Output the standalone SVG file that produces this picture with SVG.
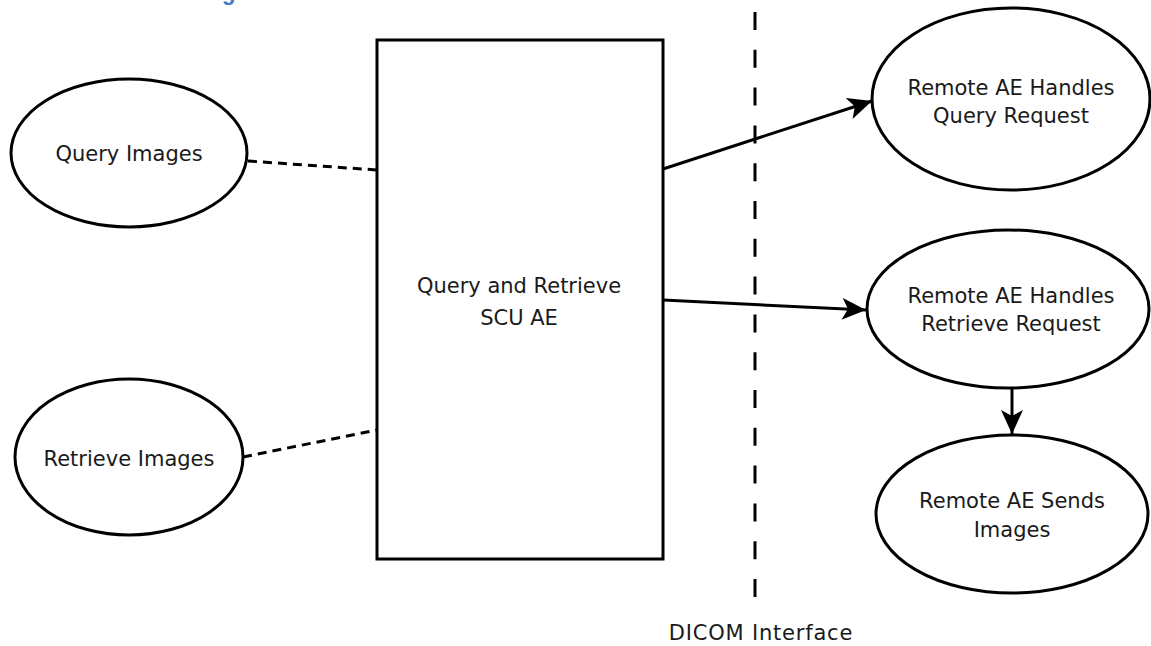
<svg xmlns="http://www.w3.org/2000/svg" width="1151" height="646" viewBox="0 0 1151 646">
<style>
.shape{fill:#fff;stroke:#000;stroke-width:3}
.lbl{font-family:"DejaVu Sans",Verdana,sans-serif;font-size:21px;fill:#1a1a1a;text-anchor:middle}
.dot{fill:none;stroke:#000;stroke-width:3;stroke-dasharray:9 6}
.arr{fill:none;stroke:#000;stroke-width:3;marker-end:url(#ah)}
</style>
<defs>
<marker id="ah" markerUnits="userSpaceOnUse" markerWidth="26" markerHeight="24" refX="24" refY="11" orient="auto">
<path d="M0,0 L24,11 L0,22 L6,11 z" fill="#000"/>
</marker>
</defs>
<rect width="1151" height="646" fill="#fff"/>
<text x="222" y="0" font-family="Liberation Sans,sans-serif" font-size="22" font-weight="bold" fill="#3e7ac6">g</text>
<g id="connectors">
<line x1="755" y1="12" x2="755" y2="597" stroke="#000" stroke-width="3" stroke-dasharray="18 19.8"/>
<line class="dot" x1="248" y1="161" x2="377" y2="170"/>
<line class="dot" x1="243" y1="457" x2="377" y2="430"/>
<line class="arr" x1="663" y1="169" x2="872" y2="101"/>
<line class="arr" x1="663" y1="300" x2="866" y2="310"/>
<line class="arr" x1="1012" y1="388" x2="1012" y2="434"/>
</g>
<g id="query-images">
<ellipse class="shape" cx="129" cy="153" rx="118" ry="74"/>
<text class="lbl" x="129" y="161">Query Images</text>
</g>
<g id="retrieve-images">
<ellipse class="shape" cx="129" cy="457" rx="114" ry="78"/>
<text class="lbl" x="129" y="466">Retrieve Images</text>
</g>
<g id="scu-ae">
<rect class="shape" x="377" y="40" width="286" height="519"/>
<text class="lbl" x="519" y="293">Query and Retrieve</text>
<text class="lbl" x="519" y="325">SCU AE</text>
</g>
<g id="remote-query">
<ellipse class="shape" cx="1011" cy="99" rx="139" ry="91"/>
<text class="lbl" x="1011" y="95">Remote AE Handles</text>
<text class="lbl" x="1011" y="123">Query Request</text>
</g>
<g id="remote-retrieve">
<ellipse class="shape" cx="1008" cy="309" rx="141" ry="79"/>
<text class="lbl" x="1011" y="303">Remote AE Handles</text>
<text class="lbl" x="1011" y="331">Retrieve Request</text>
</g>
<g id="remote-sends">
<ellipse class="shape" cx="1012" cy="514" rx="136" ry="79"/>
<text class="lbl" x="1012" y="508">Remote AE Sends</text>
<text class="lbl" x="1012" y="537">Images</text>
</g>
<g id="dicom-label">
<text class="lbl" x="761" y="640" letter-spacing="0.8">DICOM Interface</text>
</g>
</svg>
